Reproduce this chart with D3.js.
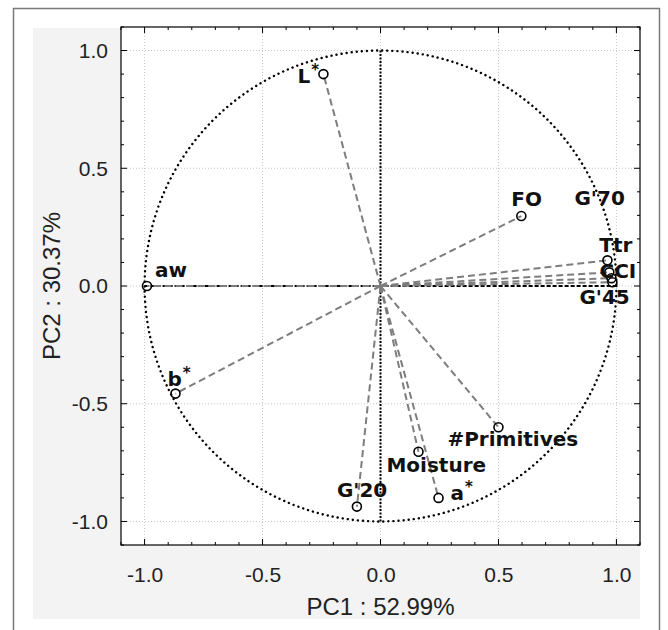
<!DOCTYPE html>
<html>
<head>
<meta charset="utf-8">
<script src="https://cdn.jsdelivr.net/npm/d3@7"></script>
<style>
  body { margin: 0; background: #fff; }
  text { font-family: "Liberation Sans", Arial, sans-serif; }
  .lbl { font-family: "DejaVu Sans", Verdana, sans-serif; font-weight: bold; font-size: 20px; fill: #111; }
</style>
</head>
<body>
<script>
// variabili e loadings (PC1, PC2)
var names = ["aw", "b*", "L*", "FO", "G'70", "Ttr", "CCI", "G'45", "#Primitives", "Moisture", "a*", "G'20"];
var pc1 = [-0.99, -0.869, -0.242, 0.597, 0.962, 0.970, 0.979, 0.983, 0.50, 0.161, 0.246, -0.10];
var pc2 = [0.0, -0.457, 0.90, 0.297, 0.109, 0.058, 0.033, 0.016, -0.60, -0.704, -0.90, -0.937];

var majorTicks = [-1.0, -0.5, 0.0, 0.5, 1.0];
var tickLabels = ["-1.0", "-0.5", "0.0", "0.5", "1.0"];
var xTitle = "PC1 : 52.99%",
    yTitle = "PC2 : 30.37%";

// spostamento delle etichette rispetto al punto (solo layout)
var labelShift = [[8,-9],[-8,-8],[-26,9],[-10,-10],[-33,-55],[-10,-20],[-12,0],[-33,22],[-51,19],[-32,20],[12,2],[-20,-10]];

var W = 668, H = 630;
var plot = {left: 121, top: 27, right: 640, bottom: 545};

var svg = d3.select("body").append("svg")
    .attr("width", W)
    .attr("height", H);

// cornice esterna e fondo grigio
svg.append("rect").attr("x", 33).attr("y", 28).attr("width", 607).attr("height", 591).attr("fill", "#f3f3f3");
svg.append("rect").attr("x", 13.5).attr("y", 8.5).attr("width", 646).attr("height", 640)
    .attr("fill", "none").attr("stroke", "#7a7a7a").attr("stroke-width", 1.5);

var x = d3.scaleLinear().domain([-1.1, 1.1]).range([plot.left, plot.right]);
var y = d3.scaleLinear().domain([-1.1, 1.1]).range([plot.bottom, plot.top]);

svg.append("rect")
    .attr("x", plot.left).attr("y", plot.top)
    .attr("width", plot.right - plot.left).attr("height", plot.bottom - plot.top)
    .attr("fill", "#fff");

var minor = d3.range(-11, 12).map(function(i) { return i / 10; });

// griglia
var grid = svg.append("g").attr("stroke", "#c8c8c8").attr("stroke-width", 1).attr("stroke-dasharray", "1,2");
majorTicks.forEach(function(v) {
  grid.append("line").attr("x1", x(v)).attr("x2", x(v)).attr("y1", plot.top).attr("y2", plot.bottom);
  grid.append("line").attr("y1", y(v)).attr("y2", y(v)).attr("x1", plot.left).attr("x2", plot.right);
});

// assi (tick verso l'interno su tutti i lati)
function isMajor(v) { return Math.abs(v * 2 - Math.round(v * 2)) < 1e-6; }
var tickFmt = function(v) { var i = majorTicks.indexOf(v); return i >= 0 ? tickLabels[i] : ""; };

function styleAxis(g) {
  g.select(".domain").remove();
  g.selectAll(".tick line").attr("stroke", "#000").attr("stroke-width", 1);
  g.selectAll(".tick text").attr("font-size", 21).attr("fill", "#222")
    .attr("font-family", "'Liberation Sans', Arial, sans-serif");
}

svg.append("g").attr("transform", "translate(0," + plot.bottom + ")")
  .call(d3.axisBottom(x).tickValues(minor).tickSize(0).tickPadding(22).tickFormat(tickFmt))
  .call(styleAxis);
svg.append("g").attr("transform", "translate(" + plot.left + ",0)")
  .call(d3.axisLeft(y).tickValues(minor).tickSize(0).tickPadding(13).tickFormat(tickFmt))
  .call(styleAxis);

var ticks = svg.append("g").attr("stroke", "#000").attr("stroke-width", 1);
minor.forEach(function(v) {
  var len = isMajor(v) ? 6 : 3;
  ticks.append("line").attr("x1", x(v)).attr("x2", x(v)).attr("y1", plot.bottom).attr("y2", plot.bottom - len);
  ticks.append("line").attr("x1", x(v)).attr("x2", x(v)).attr("y1", plot.top).attr("y2", plot.top + len);
  ticks.append("line").attr("y1", y(v)).attr("y2", y(v)).attr("x1", plot.left).attr("x2", plot.left + len);
  ticks.append("line").attr("y1", y(v)).attr("y2", y(v)).attr("x1", plot.right).attr("x2", plot.right - len);
});

svg.append("rect")
    .attr("x", plot.left).attr("y", plot.top)
    .attr("width", plot.right - plot.left).attr("height", plot.bottom - plot.top)
    .attr("fill", "none").attr("stroke", "#000").attr("stroke-width", 1.2);

// titoli degli assi
svg.append("text").attr("x", (plot.left + plot.right) / 2).attr("y", 615)
  .attr("text-anchor", "middle").attr("font-size", 24).attr("fill", "#222").text(xTitle);
svg.append("text").attr("transform", "translate(60," + y(0) + ")rotate(-90)")
  .attr("text-anchor", "middle").attr("font-size", 24).attr("fill", "#222").text(yTitle);

// cerchio di correlazione
svg.append("ellipse")
  .attr("cx", x(0)).attr("cy", y(0))
  .attr("rx", x(1) - x(0)).attr("ry", y(0) - y(1))
  .attr("fill", "none").attr("stroke", "#000").attr("stroke-width", 2.4)
  .attr("stroke-dasharray", "0.1,5").attr("stroke-linecap", "round");

// linee dello zero
svg.append("line").attr("x1", x(0)).attr("x2", x(0)).attr("y1", y(1)).attr("y2", y(-1))
  .attr("stroke", "#000").attr("stroke-width", 2).attr("stroke-dasharray", "2,1.5");
svg.append("line").attr("x1", x(-1)).attr("x2", x(1)).attr("y1", y(0)).attr("y2", y(0))
  .attr("stroke", "#000").attr("stroke-width", 2).attr("stroke-dasharray", "4,2");

// vettori
var idx = d3.range(names.length);
svg.append("g").selectAll("line").data(idx).enter().append("line")
  .attr("x1", x(0)).attr("y1", y(0))
  .attr("x2", function(i) { return x(pc1[i]); })
  .attr("y2", function(i) { return y(pc2[i]); })
  .attr("stroke", "#7d7d7d").attr("stroke-width", 2).attr("stroke-dasharray", "7,4");

svg.append("g").selectAll("circle").data(idx).enter().append("circle")
  .attr("cx", function(i) { return x(pc1[i]); })
  .attr("cy", function(i) { return y(pc2[i]); })
  .attr("r", 4.5)
  .attr("fill", "none").attr("stroke", "#000").attr("stroke-width", 1.6);

// etichette, con l'asterisco ad apice
var labels = svg.append("g").selectAll("text").data(idx).enter().append("text")
  .attr("class", "lbl")
  .attr("x", function(i) { return x(pc1[i]) + labelShift[i][0]; })
  .attr("y", function(i) { return y(pc2[i]) + labelShift[i][1]; });

labels.each(function(i) {
  var t = d3.select(this), n = names[i];
  if (n.slice(-1) === "*") {
    t.append("tspan").text(n.slice(0, -1));
    t.append("tspan").attr("dx", 1).attr("dy", -8).attr("font-size", 15).text("*");
  } else {
    t.text(n);
  }
});
</script>
</body>
</html>
